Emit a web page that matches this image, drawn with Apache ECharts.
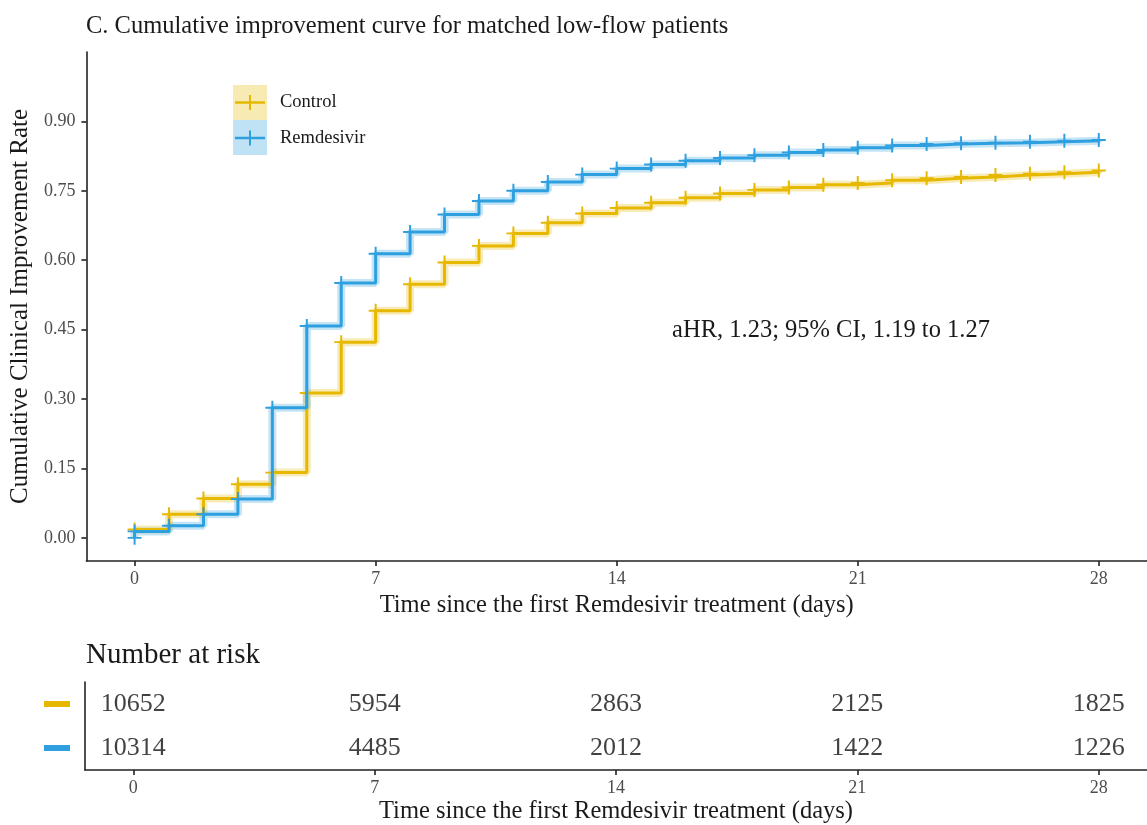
<!DOCTYPE html>
<html><head><meta charset="utf-8">
<script src="https://cdn.jsdelivr.net/npm/echarts@6/dist/echarts.min.js"></script>
<style>html,body{margin:0;padding:0;background:#fff}#c{width:1147px;height:825px}</style>
</head><body><div id="c"></div>
<script>
const days = [0,1,2,3,4,5,6,7,8,9,10,11,12,13,14,15,16,17,18,19,20,21,22,23,24,25,26,27,28];
const controlRate = [0.018,0.051,0.085,0.116,0.141,0.313,0.423,0.491,0.548,0.595,0.631,0.658,0.681,0.701,0.713,0.724,0.735,0.744,0.752,0.757,0.763,0.767,0.773,0.777,0.780,0.784,0.787,0.790,0.794];
const remdesivirStart = 0.0;
const remdesivirRate = [0.014,0.026,0.051,0.084,0.281,0.458,0.551,0.614,0.661,0.699,0.728,0.750,0.769,0.785,0.798,0.807,0.815,0.821,0.827,0.833,0.838,0.843,0.848,0.851,0.853,0.854,0.856,0.858,0.860];
const riskDays = [0,7,14,21,28];
const riskControl = [10652,5954,2863,2125,1825];
const riskRemdesivir = [10314,4485,2012,1422,1226];
const xTicks = [0,7,14,21,28];
const yTicks = [0,0.15,0.30,0.45,0.60,0.75,0.90];
const groups = ['Control','Remdesivir'];

const C_CTRL = '#E7B800', C_REM = '#2E9FDF';
const FONT = '"Liberation Serif", "DejaVu Serif", serif';
const plus = 'path://M-1,-0.14L-0.14,-0.14L-0.14,-1L0.14,-1L0.14,-0.14L1,-0.14L1,0.14L0.14,0.14L0.14,1L-0.14,1L-0.14,0.14L-1,0.14Z';

const ctrlData = days.map((d,i)=>[d, controlRate[i]]);
const remData = [[0, remdesivirStart]].concat(days.map((d,i)=>[d, remdesivirRate[i]]));

const axisLine = {show:true, onZero:false, lineStyle:{color:'#222', width:1.6}};
const axisTickX = {show:true, length:5, lineStyle:{color:'#222', width:1.6}, customValues:xTicks};
const xName = 'Time since the first Remdesivir treatment (days)';

const chart = echarts.init(document.getElementById('c'), null, {renderer:'canvas'});
chart.setOption({
  animation:false,
  backgroundColor:'#fff',
  title:{text:'C. Cumulative improvement curve for matched low-flow patients', left:86, top:14, padding:0,
    textStyle:{fontFamily:FONT, fontSize:24.5, fontWeight:'normal', color:'#1a1a1a'}},
  grid:[
    {left:85, top:52, width:1076, height:509},
    {left:85, top:682, width:1076, height:88}
  ],
  xAxis:[
    {type:'value', gridIndex:0, min:-1.4, max:29.4, axisLine, axisTick:axisTickX, splitLine:{show:false},
     axisLabel:{customValues:xTicks, fontFamily:FONT, fontSize:18, color:'#4d4d4d', margin:9},
     name:xName, nameLocation:'middle', nameGap:32,
     nameTextStyle:{fontFamily:FONT, fontSize:24.5, color:'#1a1a1a'}},
    {type:'value', gridIndex:1, min:-1.4, max:29.4, axisLine, axisTick:axisTickX, splitLine:{show:false},
     axisLabel:{customValues:xTicks, fontFamily:FONT, fontSize:18, color:'#4d4d4d', margin:9},
     name:xName, nameLocation:'middle', nameGap:29,
     nameTextStyle:{fontFamily:FONT, fontSize:24.5, color:'#1a1a1a'}}
  ],
  yAxis:[
    {type:'value', gridIndex:0, min:-0.05, max:1.05, axisLine,
     axisTick:{show:true, length:5, lineStyle:{color:'#222', width:1.6}, customValues:yTicks},
     splitLine:{show:false},
     axisLabel:{customValues:yTicks, formatter:v=>v.toFixed(2), fontFamily:FONT, fontSize:18, color:'#4d4d4d', margin:11},
     name:'Cumulative Clinical Improvement Rate', nameLocation:'middle', nameGap:52, nameRotate:90,
     nameTextStyle:{fontFamily:FONT, fontSize:25, color:'#1a1a1a'}},
    {type:'category', gridIndex:1, data:groups, inverse:true, axisLine, axisTick:{show:false}, splitLine:{show:false},
     axisLabel:{margin:15, formatter:v=> v==='Control' ? '{c|}' : '{r|}',
       rich:{c:{width:26, height:6, backgroundColor:C_CTRL}, r:{width:26, height:6, backgroundColor:C_REM}}}}
  ],
  graphic:[
    {type:'rect', shape:{x:233, y:85, width:34, height:35}, style:{fill:'#F8EAB3'}},
    {type:'line', shape:{x1:235, y1:102.5, x2:265, y2:102.5}, style:{stroke:C_CTRL, lineWidth:2.5}},
    {type:'line', shape:{x1:250, y1:95, x2:250, y2:110}, style:{stroke:C_CTRL, lineWidth:2}},
    {type:'text', x:280, y:102.5, style:{text:groups[0], font:'18.5px '+FONT, fill:'#1a1a1a', verticalAlign:'middle'}},
    {type:'rect', shape:{x:233, y:120, width:34, height:35}, style:{fill:'#C0E2F5'}},
    {type:'line', shape:{x1:235, y1:138, x2:265, y2:138}, style:{stroke:C_REM, lineWidth:2.5}},
    {type:'line', shape:{x1:250, y1:130.5, x2:250, y2:145.5}, style:{stroke:C_REM, lineWidth:2}},
    {type:'text', x:280, y:138, style:{text:groups[1], font:'18.5px '+FONT, fill:'#1a1a1a', verticalAlign:'middle'}},
    {type:'text', x:831, y:331, style:{text:'aHR, 1.23; 95% CI, 1.19 to 1.27', font:'24.5px '+FONT, fill:'#1a1a1a', align:'center', verticalAlign:'middle'}},
    {type:'text', x:86, y:655, style:{text:'Number at risk', font:'29px '+FONT, fill:'#1a1a1a', verticalAlign:'middle'}}
  ],
  series:[
    {type:'line', name:'ctrlBand', xAxisIndex:0, yAxisIndex:0, step:'end', data:ctrlData, showSymbol:false, silent:true, z:1,
     lineStyle:{width:8, color:'rgba(231,184,0,0.28)'}},
    {type:'line', name:'remBand', xAxisIndex:0, yAxisIndex:0, step:'end', data:remData, showSymbol:false, silent:true, z:1,
     lineStyle:{width:8, color:'rgba(46,159,223,0.28)'}},
    {type:'line', name:groups[0], xAxisIndex:0, yAxisIndex:0, step:'end', data:ctrlData, z:3,
     symbol:plus, symbolSize:14, showAllSymbol:true, itemStyle:{color:C_CTRL}, lineStyle:{width:3, color:C_CTRL}},
    {type:'line', name:groups[1], xAxisIndex:0, yAxisIndex:0, step:'end', data:remData, z:4,
     symbol:plus, symbolSize:14, showAllSymbol:true, itemStyle:{color:C_REM}, lineStyle:{width:3, color:C_REM}},
    {type:'scatter', xAxisIndex:1, yAxisIndex:1, symbolSize:1, itemStyle:{color:'rgba(0,0,0,0)'},
     data:riskDays.map((d,i)=>[d, groups[0], riskControl[i]]),
     label:{show:true, position:'inside', formatter:p=>String(p.value[2]), fontFamily:FONT, fontSize:26, color:'#111', textBorderWidth:0}},
    {type:'scatter', xAxisIndex:1, yAxisIndex:1, symbolSize:1, itemStyle:{color:'rgba(0,0,0,0)'},
     data:riskDays.map((d,i)=>[d, groups[1], riskRemdesivir[i]]),
     label:{show:true, position:'inside', formatter:p=>String(p.value[2]), fontFamily:FONT, fontSize:26, color:'#111', textBorderWidth:0}}
  ]
});
</script></body></html>
